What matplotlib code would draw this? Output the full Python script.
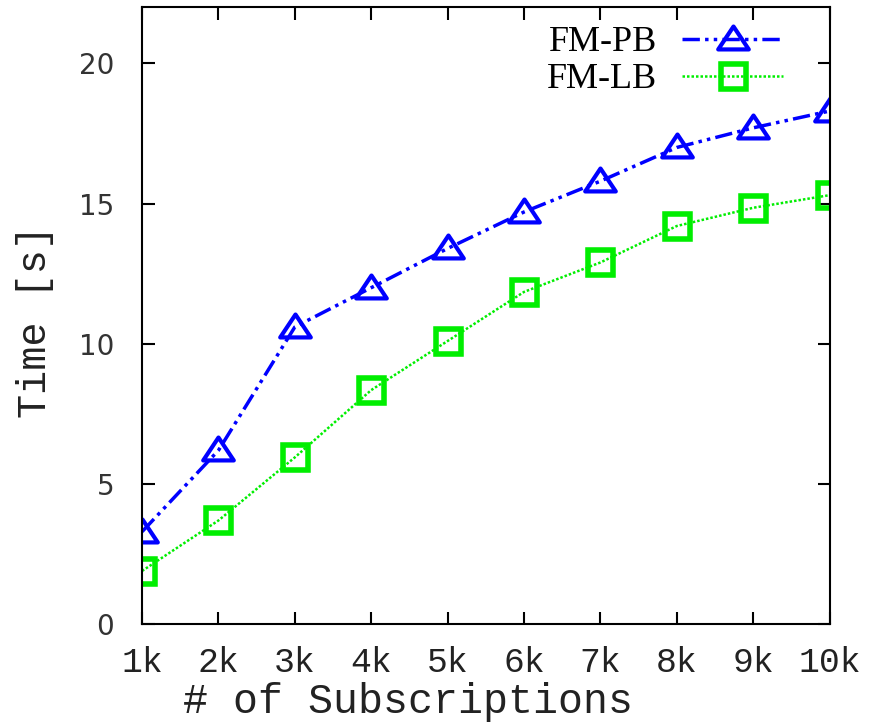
import numpy as np
import matplotlib.pyplot as plt
from matplotlib.path import Path

# Subscriptions (k) and time in seconds
subscriptions = [1, 2, 3, 4, 5, 6, 7, 8, 9, 10]
tick_labels = ['1k', '2k', '3k', '4k', '5k', '6k', '7k', '8k', '9k', '10k']
fm_pb_time = [3.3, 6.2, 10.6, 12.0, 13.4, 14.7, 15.8, 17.0, 17.7, 18.3]
fm_lb_time = [1.9, 3.7, 5.95, 8.35, 10.1, 11.85, 12.9, 14.2, 14.85, 15.3]

mono = 'Liberation Mono'

# gnuplot style triangle: a bit wider than tall
tri = Path([(-1, -0.65), (1, -0.65), (0, 0.85), (-1, -0.65)],
           [Path.MOVETO, Path.LINETO, Path.LINETO, Path.CLOSEPOLY])

fig = plt.figure(figsize=(8.77, 7.25), dpi=100)
ax = fig.add_axes([0.162, 0.139, 0.784, 0.851])

# FM-PB: blue dash-dot-dot with open triangles
ax.plot(subscriptions, fm_pb_time, color='#0000ff', lw=2.5, dashes=(5, 1.5, 1, 1.5, 1, 1.5),
        marker=tri, markersize=22, markerfacecolor='none', markeredgewidth=3, label='FM-PB')
# FM-LB: green dotted with open squares
ax.plot(subscriptions, fm_lb_time, color='#00ee00', lw=1.8, dashes=(1, 0.8),
        marker='s', markersize=18, markerfacecolor='none', markeredgewidth=4, label='FM-LB')

ax.set_xlim(1, 10)
ax.set_ylim(0, 22)
ax.set_xticks(subscriptions)
ax.set_xticklabels(tick_labels, family=mono, fontsize=25, color='#222222')
ax.set_yticks([0, 5, 10, 15, 20])
ax.set_yticklabels(['0', '5', '10', '15', '20'], fontsize=20, color='#333333')

ax.tick_params(axis='both', direction='in', length=9, width=1.5, top=True, right=True)
ax.tick_params(axis='x', pad=16)
ax.tick_params(axis='y', pad=20)
for spine in ax.spines.values():
    spine.set_linewidth(1.5)

ax.set_xlabel('# of Subscriptions', family=mono, fontsize=30, color='#222222')
ax.xaxis.set_label_coords(0.387, -0.093)
ax.set_ylabel('Time [s]', family=mono, fontsize=29, color='#222222')
ax.yaxis.set_label_coords(-0.128, 0.49)

ax.legend(loc='upper right', bbox_to_anchor=(0.98, 1.022), frameon=False, markerfirst=False,
          prop={'family': 'Liberation Serif', 'size': 26}, handlelength=2.8,
          handletextpad=0.7, labelspacing=0.1)

fig.savefig('out.png', dpi=100)
